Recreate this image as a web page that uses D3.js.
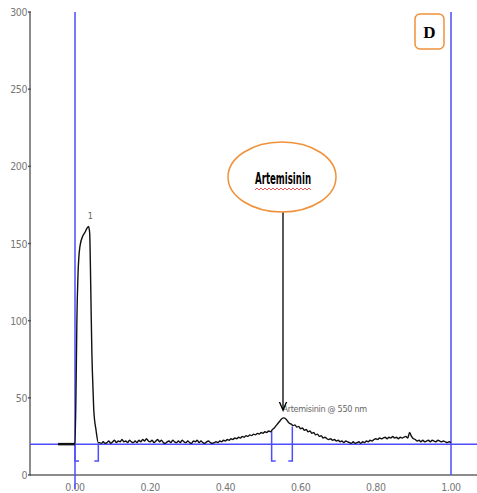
<!DOCTYPE html>
<html lang="en">
<head>
<meta charset="UTF-8">
<title>Chromatogram D</title>
<script src="https://d3js.org/d3.v7.min.js"></script>
<style>
  body { margin: 0; background: #fff; }
  svg { display: block; }
  .tick-label { font-family: 'DejaVu Sans Condensed', 'Liberation Sans Narrow', sans-serif; font-size: 10.5px; fill: #777; letter-spacing: -0.4px; }
  .small { font-family: 'DejaVu Sans Condensed', 'Liberation Sans Narrow', sans-serif; font-size: 9px; fill: #666; letter-spacing: -0.3px; }
</style>
</head>
<body>
<svg id="chart" width="477" height="493"></svg>
<script>
const yTicks = [0, 50, 100, 150, 200, 250, 300];
const xTicks = [0, 0.2, 0.4, 0.6, 0.8, 1.0];

// trace (retention vs intensity)
const traceX = [-0.045, 0.0, 0.003, 0.005, 0.008, 0.013, 0.021, 0.026, 0.032, 0.036, 0.039, 0.041, 0.043, 0.045, 0.048, 0.050, 0.056, 0.062,
  0.065, 0.07, 0.075, 0.08, 0.085, 0.09, 0.095, 0.10, 0.105, 0.11, 0.115, 0.12, 0.125, 0.13, 0.135, 0.14, 0.145, 0.15, 0.155, 0.16, 0.165, 0.17,
  0.175, 0.18, 0.185, 0.19, 0.195, 0.20, 0.205, 0.21, 0.215, 0.22, 0.225, 0.23, 0.235, 0.24, 0.245, 0.25, 0.255, 0.26, 0.265, 0.27,
  0.275, 0.28, 0.285, 0.29, 0.295, 0.30, 0.305, 0.31, 0.315, 0.32, 0.325, 0.33, 0.335, 0.34, 0.345, 0.35, 0.355, 0.36, 0.365, 0.37,
  0.375, 0.38, 0.385, 0.39, 0.395, 0.40, 0.405, 0.41, 0.415, 0.42, 0.425, 0.43, 0.435, 0.44, 0.445, 0.45, 0.455, 0.46, 0.465, 0.47,
  0.475, 0.48, 0.485, 0.49, 0.495, 0.50, 0.505, 0.51, 0.515, 0.52, 0.525, 0.53, 0.535, 0.54, 0.545, 0.55, 0.555, 0.56, 0.565, 0.57,
  0.575, 0.58, 0.585, 0.59, 0.595, 0.60, 0.605, 0.61, 0.615, 0.62, 0.625, 0.63, 0.635, 0.64, 0.645, 0.65, 0.655, 0.66, 0.665, 0.67,
  0.675, 0.68, 0.685, 0.69, 0.695, 0.70, 0.705, 0.71, 0.715, 0.72, 0.725, 0.73, 0.735, 0.74, 0.745, 0.75, 0.755, 0.76, 0.765, 0.77,
  0.775, 0.78, 0.785, 0.79, 0.795, 0.80, 0.805, 0.81, 0.815, 0.82, 0.825, 0.83, 0.835, 0.84, 0.845, 0.85, 0.855, 0.86, 0.865, 0.87,
  0.875, 0.88, 0.885, 0.89, 0.895, 0.90, 0.905, 0.91, 0.915, 0.92, 0.925, 0.93, 0.935, 0.94, 0.945, 0.95, 0.955, 0.96, 0.965, 0.97,
  0.975, 0.98, 0.985, 0.99, 0.995, 1.0];
const traceY = [20, 20, 60, 100, 130, 148, 155, 157, 160, 161, 157, 135, 105, 78, 55, 42, 29, 21,
  21, 20.5, 21.5, 20.5, 21, 22, 20.5, 21.5, 22.5, 21, 22, 21.5, 23, 21.5, 22, 21, 22.5, 21.5, 21, 22, 21, 22.5,
  21.5, 23, 22, 23.5, 22, 21.5, 22.5, 21, 22, 23, 21.5, 22.5, 21, 20.5, 21.5, 22, 21, 22.5, 21.5, 21,
  22, 21, 22.5, 21.5, 21, 22, 21, 20.5, 22, 21.5, 22.5, 21, 22, 21, 20.5, 21.5, 22, 21, 20.5, 21,
  21.5, 21, 22, 21.5, 22.5, 22, 23, 22.5, 23.5, 23, 24, 23.5, 24.5, 24, 25, 24.5, 25.5, 25, 26, 25.5,
  26.5, 26, 27, 26.5, 27.5, 27, 28, 27.5, 28.5, 28, 29.5, 30.5, 32, 33.5, 35, 36.5, 37, 36.5, 35, 33.5,
  33, 32, 32.5, 31, 31.5, 30, 30.5, 29, 29.5, 28, 28.5, 27, 27.5, 26, 26.5, 25, 25.5, 24, 24.5, 23.5,
  23, 23.5, 22.5, 23, 22, 22.5, 21.5, 22, 21, 22, 21.5, 21, 20.5, 21.5, 20.5, 21, 21.5, 20.5, 21.5, 21,
  22, 21.5, 22.5, 22, 23, 23.5, 23, 24, 23.5, 24, 24.5, 23.5, 24.5, 24, 25, 24, 24.5, 23.5, 24.5, 24,
  24.5, 25, 24, 27.5, 25, 23.5, 23, 22, 22.5, 21.5, 22.5, 21.5, 22, 22.5, 21.5, 22.5, 22, 21.5, 22.5, 22,
  21.5, 22, 21.5, 21, 21.5, 21];

const baselineLevel = 20;
const windowLimits = [0, 1.0];           // blue vertical lines
const integration = [                   // peak integration brackets
  { start: 0.0, end: 0.062 },
  { start: 0.523, end: 0.578 }
];
const peakLabels = [
  { x: 0.038, y: 163, text: '1', anchor: 'middle', dx: 1 },
  { x: 0.557, y: 38, text: 'Artemisinin @ 550 nm', anchor: 'start', dx: -2 }
];

const svg = d3.select('#chart');
const x = d3.scaleLinear().domain([0, 1]).range([75, 451]);
const y = d3.scaleLinear().domain([0, 300]).range([475, 12]);
const blue = '#4d4dff';

// axes
svg.append('line').attr('x1', 30).attr('x2', 30).attr('y1', y(300)).attr('y2', y(0))
  .attr('stroke', '#666').attr('stroke-width', 1.5);
svg.append('line').attr('x1', 30).attr('x2', 477).attr('y1', y(0)).attr('y2', y(0))
  .attr('stroke', '#666').attr('stroke-width', 1.5);

svg.selectAll('.ytick').data(yTicks).enter().append('line')
  .attr('x1', 28).attr('x2', 31).attr('y1', d => y(d)).attr('y2', d => y(d))
  .attr('stroke', '#555').attr('stroke-width', 1.5);
svg.selectAll('.ylab').data(yTicks).enter().append('text')
  .attr('class', 'tick-label').attr('x', 27).attr('y', d => y(d) + 4)
  .attr('text-anchor', 'end').text(d => d);

svg.selectAll('.xlab').data(xTicks).enter().append('text')
  .attr('class', 'tick-label').attr('x', d => x(d)).attr('y', 491)
  .attr('text-anchor', 'middle').text(d => d3.format('.2f')(d));

// blue reference lines
svg.append('line').attr('x1', 30).attr('x2', 477).attr('y1', y(baselineLevel)).attr('y2', y(baselineLevel))
  .attr('stroke', blue).attr('stroke-width', 1.5);
svg.append('line').attr('x1', x(windowLimits[0])).attr('x2', x(windowLimits[0])).attr('y1', y(300)).attr('y2', 489)
  .attr('stroke', blue).attr('stroke-width', 1.5);
svg.append('line').attr('x1', x(windowLimits[1])).attr('x2', x(windowLimits[1])).attr('y1', y(300)).attr('y2', y(0))
  .attr('stroke', blue).attr('stroke-width', 1.5);

// integration brackets
const pts = traceX.map((d, i) => [d, traceY[i]]);
const valAt = v => {
  const i = d3.bisector(d => d[0]).left(pts, v);
  return pts[Math.min(i, pts.length - 1)][1];
};
const brY = 461;
integration.forEach(b => {
  [[b.start, 1], [b.end, -1]].forEach(([v, dir]) => {
    const px = x(v);
    svg.append('path')
      .attr('d', `M${px},${y(valAt(v)) + 1}V${brY}h${dir * 4}`)
      .attr('fill', 'none').attr('stroke', blue).attr('stroke-width', 1.5);
  });
});

// trace
const line = d3.line().x(d => x(d[0])).y(d => y(d[1])).curve(d3.curveMonotoneX);
svg.append('path').datum(pts).attr('d', line)
  .attr('fill', 'none').attr('stroke', '#111').attr('stroke-width', 1.4).attr('stroke-linejoin', 'round');
svg.append('path').datum(pts.slice(0, 2)).attr('d', line)
  .attr('fill', 'none').attr('stroke', '#111').attr('stroke-width', 2.5);

svg.selectAll('.plab').data(peakLabels).enter().append('text')
  .attr('class', 'small').attr('x', d => x(d.x)).attr('y', d => y(d.y) - 4)
  .attr('text-anchor', d => d.anchor).attr('dx', d => d.dx)
  .text(d => d.text);

// callout ellipse and arrow
svg.append('defs').append('marker').attr('id', 'arr')
  .attr('viewBox', '0 0 10 10').attr('refX', 9).attr('refY', 5)
  .attr('markerWidth', 7).attr('markerHeight', 7).attr('orient', 'auto')
  .append('path').attr('d', 'M0,1L9,5L0,9').attr('fill', 'none').attr('stroke', '#000').attr('stroke-width', 1.5);
svg.append('line').attr('x1', 283).attr('x2', 283).attr('y1', 212).attr('y2', 410)
  .attr('stroke', '#000').attr('stroke-width', 1.3).attr('marker-end', 'url(#arr)');
svg.append('ellipse').attr('cx', 282).attr('cy', 177).attr('rx', 54).attr('ry', 35)
  .attr('fill', '#fff').attr('stroke', '#f0913a').attr('stroke-width', 1.5);
svg.append('text').attr('x', 283).attr('y', 184).attr('text-anchor', 'middle')
  .attr('font-family', 'DejaVu Sans Condensed, Liberation Sans Narrow, sans-serif').attr('font-weight', 'bold')
  .attr('font-size', 15).attr('textLength', 56).attr('lengthAdjust', 'spacingAndGlyphs')
  .attr('fill', '#000').text('Artemisinin');
svg.append('path').attr('d', d3.range(0, 29).map(i => `${i ? 'L' : 'M'}${255 + i * 2},${i % 2 ? 188 : 190}`).join(''))
  .attr('fill', 'none').attr('stroke', '#e03030').attr('stroke-width', 0.8);

// panel letter
svg.append('rect').attr('x', 415).attr('y', 14).attr('width', 29).attr('height', 35).attr('rx', 5)
  .attr('fill', '#fff').attr('stroke', '#f0913a').attr('stroke-width', 1.5);
svg.append('text').attr('x', 429.5).attr('y', 38).attr('text-anchor', 'middle')
  .attr('font-family', 'Liberation Serif, serif').attr('font-weight', 'bold')
  .attr('font-size', 17).attr('fill', '#000').text('D');
</script>
</body>
</html>
